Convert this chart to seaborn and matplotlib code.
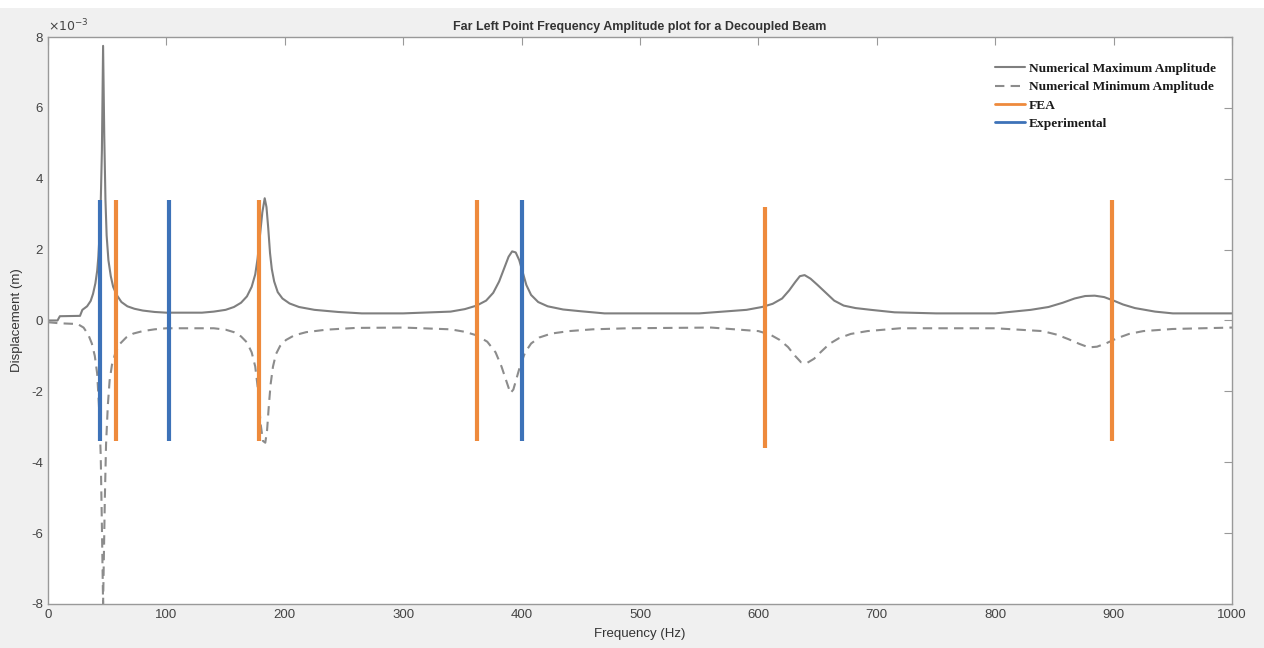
import matplotlib
matplotlib.use('Agg')
import matplotlib.pyplot as plt
import matplotlib.ticker as mticker
from matplotlib.lines import Line2D
from matplotlib.patches import Rectangle
import numpy as np
import pandas as pd
import seaborn as sns

# Numerical maximum amplitude envelope (frequency in Hz, displacement in 1e-3 m)
max_freq = [0, 8, 10, 27, 29, 33, 36, 38, 40, 41.5, 42.5, 43.5, 44.5, 45.5, 46.5, 47.5, 48.5, 49.5, 51, 53, 55,
            58, 62, 67, 73, 80, 90, 100, 130, 140, 150, 157, 163, 168, 172, 175, 177, 179, 181, 183, 184.5,
            186, 187.5, 189, 191, 194, 198, 204, 212, 225, 245, 265, 300, 340, 352, 362, 370, 376, 381, 385,
            389, 392, 395, 398, 401, 404, 408, 414, 422, 435, 450, 470, 550, 590, 603, 612, 620, 626, 631,
            635, 639, 644, 650, 657, 664, 672, 682, 695, 715, 750, 800, 830, 845, 857, 867, 876, 884, 892,
            900, 908, 918, 935, 950, 1000]
max_amp = [0.0, 0.0, 0.12, 0.13, 0.3, 0.4, 0.55, 0.75, 1.05, 1.4, 1.8, 2.4, 3.3, 4.8, 7.75, 5.2, 3.4, 2.4, 1.7,
           1.25, 0.95, 0.72, 0.52, 0.4, 0.33, 0.28, 0.24, 0.22, 0.22, 0.25, 0.3, 0.38, 0.5, 0.68, 0.95, 1.3,
           1.75, 2.4, 3.05, 3.45, 3.2, 2.6, 1.9, 1.45, 1.1, 0.8, 0.62, 0.48, 0.38, 0.3, 0.24, 0.2, 0.2, 0.25,
           0.32, 0.42, 0.56, 0.78, 1.1, 1.45, 1.8, 1.95, 1.92, 1.7, 1.35, 1.0, 0.72, 0.52, 0.4, 0.31, 0.26,
           0.2, 0.2, 0.3, 0.38, 0.47, 0.62, 0.85, 1.08, 1.25, 1.28, 1.18, 1.0, 0.78, 0.56, 0.42, 0.35, 0.3,
           0.23, 0.2, 0.2, 0.3, 0.38, 0.5, 0.62, 0.69, 0.7, 0.66, 0.56, 0.45, 0.35, 0.25, 0.2, 0.2]

# Numerical minimum amplitude envelope
min_freq = [0, 10, 25, 30, 34, 37, 39.5, 41.5, 43, 44.5, 45.5, 46.5, 47.5, 48, 49, 50.5, 52, 54, 57, 61, 66, 72,
            80, 90, 100, 140, 150, 157, 163, 168, 172, 175, 177.5, 179.5, 181.5, 183.5, 185, 186.5, 188, 190,
            192.5, 196, 201, 208, 218, 235, 260, 300, 340, 352, 362, 371, 378, 383, 387, 390.5, 393, 396, 399,
            403, 408, 415, 425, 440, 460, 490, 560, 600, 610, 618, 625, 631, 636, 641, 647, 653, 660, 668,
            678, 692, 720, 800, 840, 852, 862, 871, 879, 886, 894, 903, 913, 925, 950, 1000]
min_amp = [-0.05, -0.08, -0.1, -0.2, -0.4, -0.65, -1.0, -1.5, -2.4, -3.8, -5.8, -8.0, -6.0, -5.0, -3.5, -2.4,
           -1.7, -1.25, -0.9, -0.65, -0.48, -0.37, -0.3, -0.25, -0.22, -0.22, -0.26, -0.33, -0.45, -0.62, -0.9,
           -1.3, -2.0, -2.9, -3.4, -3.45, -3.1, -2.4, -1.8, -1.3, -0.95, -0.72, -0.55, -0.42, -0.33, -0.26,
           -0.21, -0.2, -0.25, -0.32, -0.42, -0.6, -0.9, -1.3, -1.7, -2.05, -1.95, -1.6, -1.25, -0.9, -0.65,
           -0.48, -0.37, -0.3, -0.25, -0.22, -0.2, -0.3, -0.4, -0.55, -0.75, -1.0, -1.18, -1.2, -1.08, -0.88,
           -0.66, -0.5, -0.38, -0.3, -0.22, -0.22, -0.3, -0.4, -0.53, -0.66, -0.76, -0.74, -0.64, -0.5, -0.38,
           -0.3, -0.24, -0.2]

# Natural frequencies (Hz) with the extent of each marker line (1e-3 m)
fea_freq = [57, 178, 362, 605.5, 898.5]
fea_top = [3.4, 3.4, 3.4, 3.2, 3.4]
fea_bottom = [-3.4, -3.4, -3.4, -3.6, -3.4]
exp_freq = [44, 102, 400]
exp_top = [3.4, 3.4, 3.4]
exp_bottom = [-3.4, -3.4, -3.4]

df_max = pd.DataFrame({'freq': max_freq, 'disp': np.array(max_amp) * 1e-3})
df_min = pd.DataFrame({'freq': min_freq, 'disp': np.array(min_amp) * 1e-3})

sns.set_style('white')
plt.rcParams['font.family'] = ['Liberation Sans', 'DejaVu Sans']
plt.rcParams['axes.unicode_minus'] = False

fig = plt.figure(figsize=(12.64, 6.48), dpi=100, facecolor='#f0f0f0')
# white strip along the top edge, as in the screenshot
fig.patches.append(Rectangle((0, 0.987), 1, 0.013, transform=fig.transFigure,
                             facecolor='white', edgecolor='none', zorder=-1))
ax = fig.add_axes([0.038, 0.068, 0.9367, 0.8749])
ax.set_facecolor('white')

grey_max = '#7f7f7f'
grey_min = '#8c8c8c'
orange = '#ee8a3c'
blue = '#3d72b8'

sns.lineplot(data=df_max, x='freq', y='disp', ax=ax, color=grey_max, lw=1.5, sort=False)
sns.lineplot(data=df_min, x='freq', y='disp', ax=ax, color=grey_min, lw=1.5, sort=False,
             linestyle=(0, (4.5, 3)))
ax.vlines(exp_freq, np.array(exp_bottom) * 1e-3, np.array(exp_top) * 1e-3, color=blue, lw=3)
ax.vlines(fea_freq, np.array(fea_bottom) * 1e-3, np.array(fea_top) * 1e-3, color=orange, lw=3)

ax.set_xlim(0, 1000)
ax.set_ylim(-8e-3, 8e-3)
ax.set_xticks(np.arange(0, 1001, 100))
ax.set_yticks(np.arange(-8e-3, 8.1e-3, 2e-3))
# MATLAB-style labels: plain hyphen, exponent shown once above the axis
ax.yaxis.set_major_formatter(mticker.FuncFormatter(lambda v, p: '%d' % round(v * 1e3)))
ax.text(0.0, 1.004, r'$\times10^{-3}$', transform=ax.transAxes, fontsize=9,
        color='#444444', ha='left', va='bottom')

ax.tick_params(axis='both', direction='in', length=6, width=0.8, colors='#999999',
               labelcolor='#444444', labelsize=9.5, top=True, right=True)
for s in ax.spines.values():
    s.set_color('#999999')
    s.set_linewidth(1)

ax.set_xlabel('Frequency (Hz)', fontsize=9.5, color='#333333', labelpad=5)
ax.set_ylabel('Displacement (m)', fontsize=9.5, color='#333333', labelpad=6)
ax.set_title('Far Left Point Frequency Amplitude plot for a Decoupled Beam', fontsize=9,
             fontweight='bold', color='#333333', pad=5)

handles = [Line2D([], [], color=grey_max, lw=1.5),
           Line2D([], [], color=grey_min, lw=1.5, linestyle=(0, (4.5, 3))),
           Line2D([], [], color=orange, lw=2),
           Line2D([], [], color=blue, lw=2)]
labels = ['Numerical Maximum Amplitude', 'Numerical Minimum Amplitude', 'FEA', 'Experimental']
ax.legend(handles, labels, loc='upper left', bbox_to_anchor=(0.79, 0.976), frameon=False,
          prop={'family': 'Liberation Serif', 'weight': 'bold', 'size': 9.6},
          labelspacing=0.45, handlelength=2.2, handletextpad=0.3, labelcolor='#1a1a1a')

fig.savefig('out.png', dpi=100, facecolor=fig.get_facecolor())
